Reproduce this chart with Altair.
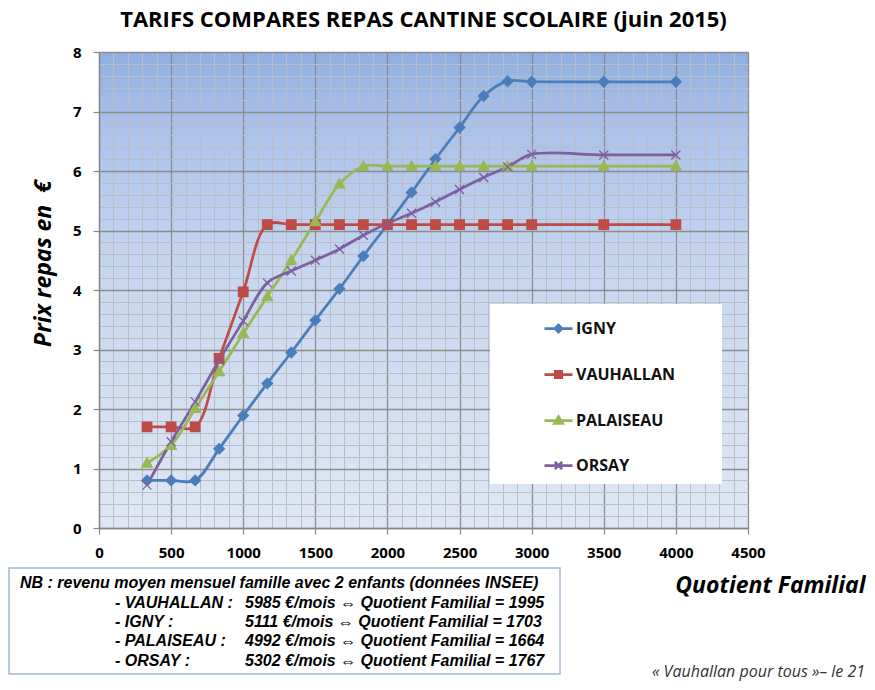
import altair as alt
import pandas as pd

# ---------------- data ----------------
qf = [333, 500, 667, 833, 1000, 1167, 1333, 1500, 1667, 1833, 2000,
      2167, 2333, 2500, 2667, 2833, 3000, 3500, 4000]
igny = [0.80, 0.80, 0.80, 1.33, 1.89, 2.43, 2.95, 3.49, 4.02, 4.57, 5.10,
        5.64, 6.20, 6.73, 7.26, 7.51, 7.50, 7.50, 7.50]
vauhallan = [1.70, 1.70, 1.70, 2.85, 3.97, 5.10, 5.10, 5.10, 5.10, 5.10, 5.10,
             5.10, 5.10, 5.10, 5.10, 5.10, 5.10, 5.10, 5.10]
palaiseau = [1.09, 1.39, 2.01, 2.63, 3.27, 3.89, 4.50, 5.15, 5.78, 6.08, 6.08,
             6.08, 6.08, 6.08, 6.08, 6.08, 6.08, 6.08, 6.08]
orsay = [0.72, 1.45, 2.12, 2.82, 3.48, 4.12, 4.32, 4.50, 4.69, 4.92, 5.12,
         5.29, 5.48, 5.69, 5.89, 6.07, 6.28, 6.27, 6.27]

communes = ["IGNY", "VAUHALLAN", "PALAISEAU", "ORSAY"]
colors = ["#4a7ebb", "#be4b48", "#98b954", "#7d60a0"]

x_ticks = list(range(0, 4501, 100))
y_ticks = [i / 5 for i in range(41)]

title_text = "TARIFS COMPARES REPAS CANTINE SCOLAIRE (juin 2015)"
y_title = "Prix repas en\u00a0 €"
x_title = "Quotient Familial"
note_header = "NB : revenu moyen mensuel famille avec 2 enfants (données INSEE)"
note_names = ["- VAUHALLAN :", "- IGNY :", "- PALAISEAU :", "- ORSAY :"]
note_values = ["5985 €/mois ⇔ Quotient Familial = 1995",
               "5111 €/mois ⇔ Quotient Familial = 1703",
               "4992 €/mois ⇔ Quotient Familial = 1664",
               "5302 €/mois ⇔ Quotient Familial = 1767"]
footer = "« Vauhallan pour tous »– le 21"

rows = []
for name, vals in zip(communes, [igny, vauhallan, palaiseau, orsay]):
    for xv, yv in zip(qf, vals):
        rows.append({"commune": name, "marker": name, "qf": xv, "prix": yv})
df = pd.DataFrame(rows)

# ---------------- styles ----------------
color_of = dict(zip(communes, colors))
marker_of = {
    "IGNY": "M0,-1.05L1.05,0L0,1.05L-1.05,0Z",
    "VAUHALLAN": "M-0.95,-0.95L0.95,-0.95L0.95,0.95L-0.95,0.95Z",
    "PALAISEAU": "M0,-1.05L1.05,0.8L-1.05,0.8Z",
    "ORSAY": "M-0.9,-0.9L0.9,0.9M-0.9,0.9L0.9,-0.9",
}
# marker scales use the data-driven (alphabetical) domain of the "marker" column
marker_order = sorted(communes)
marker_colors = [color_of[n] for n in marker_order]
marker_shapes = [marker_of[n] for n in marker_order]

legend_paths = {
    "IGNY": "M-1,0L1,0M0,-0.25L0.25,0L0,0.25L-0.25,0Z",
    "VAUHALLAN": "M-1,0L1,0M-0.23,-0.23L0.23,-0.23L0.23,0.23L-0.23,0.23Z",
    "PALAISEAU": "M-1,0L1,0M0,-0.27L0.29,0.21L-0.29,0.21Z",
    "ORSAY": "M-1,0L1,0M-0.26,-0.26L0.26,0.26M-0.26,0.26L0.26,-0.26",
}
shape_expr = (
    f"datum.value === 'IGNY' ? '{legend_paths['IGNY']}' : "
    f"datum.value === 'VAUHALLAN' ? '{legend_paths['VAUHALLAN']}' : "
    f"datum.value === 'PALAISEAU' ? '{legend_paths['PALAISEAU']}' : "
    f"'{legend_paths['ORSAY']}'"
)

FONT = "Open Sans"
major_x = "datum.value % 500 === 0"
major_y = "datum.value % 1 === 0"

x_axis = alt.Axis(
    values=x_ticks, tickCount=500,
    labelExpr=f"{major_x} ? '' + datum.value : ''",
    labelOverlap=False, labelFlush=False,
    labelFont=FONT, labelFontSize=15, labelFontWeight="bold", labelColor="black",
    labelPadding=11,
    grid=True,
    gridColor={"condition": {"test": major_x, "value": "#8d8d8d"}, "value": "#b9bdc6"},
    gridWidth={"condition": {"test": major_x, "value": 1.3}, "value": 1},
    tickOpacity={"condition": {"test": major_x, "value": 1}, "value": 0},
    tickColor="#868686", tickSize=6, tickWidth=1.2,
    domainColor="#868686", domainWidth=1.3,
    title=x_title, titleFont=FONT, titleFontSize=23, titleFontWeight="bold",
    titleFontStyle="italic", titleColor="black",
    titleX=766, titleY=57, titleAlign="right", titleBaseline="middle", titleAngle=0,
)
y_axis = alt.Axis(
    values=y_ticks, tickCount=500,
    labelExpr=f"{major_y} ? '' + datum.value : ''",
    labelOverlap=False, labelFlush=False,
    labelFont=FONT, labelFontSize=15, labelFontWeight="bold", labelColor="black",
    labelPadding=12,
    grid=True,
    gridColor={"condition": {"test": major_y, "value": "#8d8d8d"}, "value": "#b9bdc6"},
    gridWidth={"condition": {"test": major_y, "value": 1.3}, "value": 1},
    tickOpacity={"condition": {"test": major_y, "value": 1}, "value": 0},
    tickColor="#868686", tickSize=6, tickWidth=1.2,
    domainColor="#868686", domainWidth=1.3,
    title=y_title, titleFont=FONT, titleFontSize=23, titleFontWeight="bold",
    titleFontStyle="italic", titleColor="black",
    titleX=-56, titleY=211, titleAlign="center", titleBaseline="middle", titleAngle=-90,
)

x_enc = alt.X("qf:Q", scale=alt.Scale(domain=[0, 4500], nice=False), axis=x_axis)
y_enc = alt.Y("prix:Q", scale=alt.Scale(domain=[0, 8], nice=False), axis=y_axis)

legend = alt.Legend(
    title="\u00a0", titleOrient="right", titlePadding=38, titleFontSize=10,
    orient="none", legendX=391, legendY=252,
    fillColor="white", padding=9, symbolOffset=44, symbolSize=784,
    symbolStrokeWidth=2.75, rowPadding=21, labelOffset=2, labelLimit=250,
    labelFont=FONT, labelFontSize=16, labelFontWeight="bold", labelColor="#111111",
    symbolType=alt.ExprRef(expr=shape_expr),
    symbolFillColor=alt.ExprRef(expr="scale('color', datum.value)"),
    symbolOpacity=1,
)

base = alt.Chart(df)

lines = base.mark_line(interpolate="catmull-rom", strokeWidth=2.75).encode(
    x=x_enc, y=y_enc,
    color=alt.Color("commune:N",
                    scale=alt.Scale(domain=communes, range=colors), legend=legend),
    detail="commune:N",
)

points = base.mark_point(filled=True, size=100, opacity=1, strokeWidth=1.3).encode(
    x="qf:Q", y="prix:Q",
    fill=alt.Fill("marker:N", scale=alt.Scale(range=marker_colors), legend=None),
    stroke=alt.Stroke("marker:N", scale=alt.Scale(range=marker_colors), legend=None),
    shape=alt.Shape("marker:N", scale=alt.Scale(range=marker_shapes), legend=None),
)

# ---------------- annotations ----------------
one = alt.Chart(pd.DataFrame({"k": [0]}))

note_box = one.mark_rect(fill="white", stroke="#a3b7d8", strokeWidth=1.5).encode(
    x=alt.value(-90), x2=alt.value(461), y=alt.value(516), y2=alt.value(622)
)
text_style = dict(font="Liberation Sans", fontSize=16, fontWeight="bold",
                  fontStyle="italic", color="black", align="left", baseline="alphabetic")
note_h = one.mark_text(**text_style).encode(
    x=alt.value(-79), y=alt.value(536), text=alt.value(note_header))
note_n = one.mark_text(lineHeight=19.3, **text_style).encode(
    x=alt.value(16), y=alt.value(555.7), text=alt.value(note_names))
note_v = one.mark_text(lineHeight=19.3, **text_style).encode(
    x=alt.value(146), y=alt.value(555.7), text=alt.value(note_values))
foot = one.mark_text(font=FONT, fontSize=16, fontStyle="italic", color="#333333",
                     align="right", baseline="alphabetic").encode(
    x=alt.value(766), y=alt.value(625), text=alt.value(footer))

gradient_expr = (
    "{gradient: 'linear', x1: 0, y1: 0, x2: 0, y2: 1, stops: ["
    "{offset: 0, color: '#8fb0e0'}, {offset: 0.15, color: '#a9c1ea'}, "
    "{offset: 0.45, color: '#c7d6ef'}, {offset: 1, color: '#dfe7f4'}]}"
)

chart = alt.layer(lines, points, note_box, note_h, note_n, note_v, foot).properties(
    width=649, height=476,
    padding={"left": 91, "top": 44, "right": 118, "bottom": 153},
    autosize=alt.AutoSizeParams(type="none"),
    background="white",
    view=alt.ViewBackground(fill=alt.ExprRef(expr=gradient_expr), stroke="transparent"),
    title=alt.TitleParams(title_text, font=FONT, fontSize=22, fontWeight="bold",
                          color="black", anchor="middle", frame="group",
                          baseline="alphabetic", offset=-4),
)

chart.save("out.html", embed_options={"renderer": "svg", "actions": False})
